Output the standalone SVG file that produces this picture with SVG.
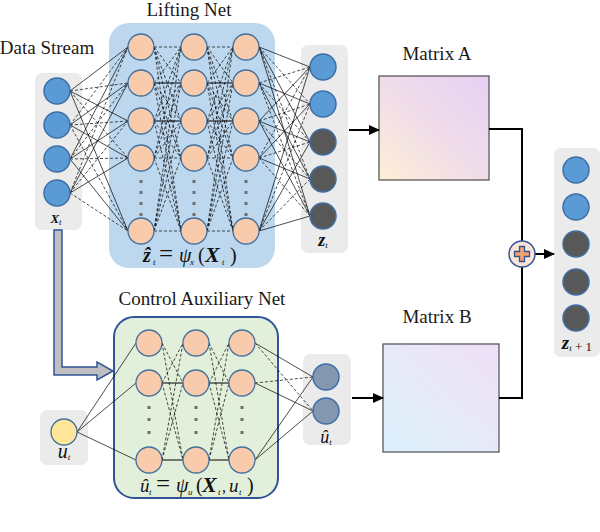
<svg xmlns="http://www.w3.org/2000/svg" width="600" height="532" viewBox="0 0 600 532">
<defs>
<style>
text{font-family:'Liberation Serif','Times New Roman',Times,serif}
.lbl{font-size:19px;fill:#1a1a1a}
.math{font-size:20px;fill:#111}
.bi{font-weight:bold;font-style:italic}
.it{font-style:italic}
.sub{font-size:9px;font-style:italic}
.panel{fill:#ebebeb}
.blue{fill:#5b9bd5;stroke:#3e6fa6;stroke-width:1.5}
.dark{fill:#585858;stroke:#3e6fa6;stroke-width:1.5}
.slate{fill:#8497b0;stroke:#3e6fa6;stroke-width:1.5}
.neu{fill:#f8cbad;stroke:#41719c;stroke-width:1.3}
.yel{fill:#ffe699;stroke:#41719c;stroke-width:1.3}
.solid{fill:none;stroke:#000;stroke-width:0.7}
.dash{fill:none;stroke:#000;stroke-width:0.7;stroke-dasharray:3 2}
.hz{fill:none;stroke:#000;stroke-width:1}
.flow{fill:none;stroke:#000;stroke-width:2}
.dot{fill:#6f6f6f}
</style>
<linearGradient id="gA" x1="0" y1="1" x2="1" y2="0">
<stop offset="0" stop-color="#fdefd6"/>
<stop offset="0.5" stop-color="#f0dcea"/>
<stop offset="1" stop-color="#e6d0f4"/>
</linearGradient>
<linearGradient id="gB" x1="0" y1="1" x2="1" y2="0">
<stop offset="0" stop-color="#daf0fb"/>
<stop offset="0.55" stop-color="#e8e8f8"/>
<stop offset="1" stop-color="#efdff7"/>
</linearGradient>
<marker id="ah" markerUnits="userSpaceOnUse" markerWidth="11" markerHeight="10" refX="10" refY="5" orient="auto">
<path d="M0,0 L11,5 L0,10 Z" fill="#000"/>
</marker>
</defs>

<!-- titles -->
<text class="lbl" x="189" y="16" text-anchor="middle">Lifting Net</text>
<text class="lbl" x="47" y="54" text-anchor="middle">Data Stream</text>
<text class="lbl" x="202" y="305" text-anchor="middle">Control Auxiliary Net</text>
<text class="lbl" x="437" y="60" text-anchor="middle">Matrix A</text>
<text class="lbl" x="437" y="323" text-anchor="middle">Matrix B</text>

<!-- container panels -->
<g id="data-stream-panel"><rect class="panel" x="35" y="73" width="47" height="157" rx="7"/></g>
<g id="lifting-net-panel"><rect x="109" y="23" width="166" height="245" rx="20" fill="#bdd7ee"/></g>
<g id="zt-panel"><rect class="panel" x="301" y="45" width="47" height="208" rx="7"/></g>
<g id="control-net-panel"><rect x="114" y="317" width="164" height="181" rx="20" fill="#e2efda" stroke="#2f5597" stroke-width="2"/></g>
<g id="ut-panel"><rect class="panel" x="40" y="410" width="48" height="55" rx="7"/></g>
<g id="uhat-panel"><rect class="panel" x="303" y="354" width="48" height="91" rx="7"/></g>
<g id="zt1-panel"><rect class="panel" x="554" y="148" width="46" height="209" rx="7"/></g>

<!-- matrices -->
<g id="matrix-a"><rect x="379" y="76" width="110" height="104" fill="url(#gA)" stroke="#595959" stroke-width="1.3"/></g>
<g id="matrix-b"><rect x="383" y="344" width="116" height="108" fill="url(#gB)" stroke="#595959" stroke-width="1.3"/></g>

<!-- connectors -->
<g id="connectors">
<path class="solid" d="M70 91L128 47M70 91L128 121M70 91L128 231M70 125L128 83M70 125L128 158M70 159L128 47M70 159L128 121M70 159L128 231M70 193L128 83M70 193L128 158"/>
<path class="dash" d="M70 91L128 83M70 91L128 158M70 125L128 47M70 125L128 121M70 125L128 231M70 159L128 83M70 159L128 158M70 193L128 47M70 193L128 121M70 193L128 231"/>
<path class="hz" d="M154 83H181M154 121H181M207 83H233M207 121H233"/>
<path class="dash" d="M154 47H181M154 158H181M154 231H181M207 47H233M207 158H233M207 231H233"/>
<path class="dash" d="M154 47L181 83M154 47L181 121M154 47L181 158M154 47L181 231M154 83L181 47M154 83L181 121M154 83L181 158M154 83L181 231M154 121L181 47M154 121L181 83M154 121L181 158M154 121L181 231M154 158L181 47M154 158L181 83M154 158L181 121M154 158L181 231M154 231L181 47M154 231L181 83M154 231L181 121M154 231L181 158"/>
<path class="dash" d="M207 47L233 83M207 47L233 121M207 47L233 158M207 47L233 231M207 83L233 47M207 83L233 121M207 83L233 158M207 83L233 231M207 121L233 47M207 121L233 83M207 121L233 158M207 121L233 231M207 158L233 47M207 158L233 83M207 158L233 121M207 158L233 231M207 231L233 47M207 231L233 83M207 231L233 121M207 231L233 158"/>
<path class="solid" d="M259 47L310 67M259 47L310 142M259 47L310 216M259 83L310 104M259 83L310 179M259 121L310 67M259 121L310 142M259 121L310 216M259 158L310 104M259 158L310 179M259 231L310 67M259 231L310 142M259 231L310 216"/>
<path class="dash" d="M259 47L310 104M259 47L310 179M259 83L310 67M259 83L310 142M259 83L310 216M259 121L310 104M259 121L310 179M259 158L310 67M259 158L310 142M259 158L310 216M259 231L310 104M259 231L310 179"/>
<path class="solid" d="M77 432L136 343M77 432L136 383M77 432L136 460"/>
<path class="hz" d="M162 383H183M162 460H183M209 383H229M209 460H229"/>
<path class="dash" d="M162 343L183 383M162 343L183 460M162 383L183 343M162 383L183 460M162 460L183 343M162 460L183 383M209 343L229 383M209 343L229 460M209 383L229 343M209 383L229 460M209 460L229 343M209 460L229 383"/>
<path class="solid" d="M255 343L313 377M255 383L313 411M255 460L313 377M255 460L313 411"/>
<path class="dash" d="M255 343L313 411M255 383L313 377"/>
<path d="M54 230L62 230L62 367L97 367L97 362L113 371L97 380L97 375L54 375Z" fill="#bfbfbf" stroke="#2f5597" stroke-width="1.5" stroke-linejoin="miter"/>
<path class="flow" d="M349 130H379" marker-end="url(#ah)"/>
<path class="flow" d="M352 398H383" marker-end="url(#ah)"/>
<path class="flow" d="M489 129H522V241"/>
<path class="flow" d="M499 398H522V267"/>
<path class="flow" d="M535 254H554" marker-end="url(#ah)"/>
</g>

<!-- data stream nodes -->
<g id="data-stream">
<circle class="blue" cx="57" cy="91" r="13"/>
<circle class="blue" cx="57" cy="125" r="13"/>
<circle class="blue" cx="57" cy="159" r="13"/>
<circle class="blue" cx="57" cy="193" r="13"/>
<text x="56" y="223" text-anchor="middle" font-size="13" fill="#111"><tspan class="bi">X</tspan><tspan class="sub" font-size="7" dy="1.5">t</tspan></text>
</g>

<!-- lifting net layers -->
<g id="lifting-layer-1">
<circle class="neu" cx="141" cy="47" r="13"/><circle class="neu" cx="141" cy="83" r="13"/><circle class="neu" cx="141" cy="121" r="13"/><circle class="neu" cx="141" cy="158" r="13"/><circle class="neu" cx="141" cy="231" r="13"/>
<rect class="dot" x="139.5" y="180" width="3" height="3"/><rect class="dot" x="139.5" y="191" width="3" height="3"/><rect class="dot" x="139.5" y="202" width="3" height="3"/><rect class="dot" x="139.5" y="213" width="3" height="3"/>
</g>
<g id="lifting-layer-2">
<circle class="neu" cx="194" cy="47" r="13"/><circle class="neu" cx="194" cy="83" r="13"/><circle class="neu" cx="194" cy="121" r="13"/><circle class="neu" cx="194" cy="158" r="13"/><circle class="neu" cx="194" cy="231" r="13"/>
<rect class="dot" x="192.5" y="180" width="3" height="3"/><rect class="dot" x="192.5" y="191" width="3" height="3"/><rect class="dot" x="192.5" y="202" width="3" height="3"/><rect class="dot" x="192.5" y="213" width="3" height="3"/>
</g>
<g id="lifting-layer-3">
<circle class="neu" cx="246" cy="47" r="13"/><circle class="neu" cx="246" cy="83" r="13"/><circle class="neu" cx="246" cy="121" r="13"/><circle class="neu" cx="246" cy="158" r="13"/><circle class="neu" cx="246" cy="231" r="13"/>
<rect class="dot" x="244.5" y="180" width="3" height="3"/><rect class="dot" x="244.5" y="191" width="3" height="3"/><rect class="dot" x="244.5" y="202" width="3" height="3"/><rect class="dot" x="244.5" y="213" width="3" height="3"/>
</g>
<g id="lifting-formula">
<text class="math" y="262"><tspan x="143" class="bi">ẑ</tspan><tspan x="153" y="265" class="sub">t</tspan><tspan x="159" y="262" font-size="25">=</tspan><tspan x="179" y="262" class="it">ψ</tspan><tspan x="190" y="265" class="sub">x</tspan><tspan x="198" y="262">(</tspan><tspan x="205" y="262" class="bi" font-size="22">X</tspan><tspan x="222" y="265" class="sub">t</tspan><tspan x="230" y="262">)</tspan></text>
</g>

<!-- z_t -->
<g id="z-t">
<circle class="blue" cx="323" cy="67" r="13"/>
<circle class="blue" cx="323" cy="104" r="13"/>
<circle class="dark" cx="323" cy="142" r="13"/>
<circle class="dark" cx="323" cy="179" r="13"/>
<circle class="dark" cx="323" cy="216" r="13"/>
<text x="323" y="246" text-anchor="middle" font-size="18" fill="#111"><tspan class="bi">z</tspan><tspan class="sub" font-size="9" dy="2">t</tspan></text>
</g>

<!-- plus -->
<g id="sum">
<circle cx="522" cy="254" r="13" fill="#fbe5d6" stroke="#2f5597" stroke-width="1.5"/>
<path d="M519.5 246.5H524.5V251.5H529.5V256.5H524.5V261.5H519.5V256.5H514.5V251.5H519.5Z" fill="#f4a36a" stroke="#2f5597" stroke-width="1.3"/>
</g>

<!-- z_{t+1} -->
<g id="z-t1">
<circle class="blue" cx="576" cy="170" r="13"/>
<circle class="blue" cx="576" cy="207" r="13"/>
<circle class="dark" cx="576" cy="244" r="13"/>
<circle class="dark" cx="576" cy="282" r="13"/>
<circle class="dark" cx="576" cy="318" r="13"/>
<text x="577" y="349" text-anchor="middle" font-size="19" fill="#111"><tspan class="bi">z</tspan><tspan class="sub" font-size="12" dy="2">t</tspan><tspan font-size="13"> + 1</tspan></text>
</g>

<!-- u_t -->
<g id="u-t">
<circle class="yel" cx="64" cy="432" r="13"/>
<text x="64" y="458" text-anchor="middle" font-size="20" fill="#111"><tspan class="it">u</tspan><tspan class="sub" font-size="12" dy="2">t</tspan></text>
</g>

<!-- control net layers -->
<g id="control-layer-1">
<circle class="neu" cx="149" cy="343" r="13"/><circle class="neu" cx="149" cy="383" r="13"/><circle class="neu" cx="149" cy="460" r="13"/>
<rect class="dot" x="147.5" y="406" width="3" height="3"/><rect class="dot" x="147.5" y="418" width="3" height="3"/><rect class="dot" x="147.5" y="431" width="3" height="3"/>
</g>
<g id="control-layer-2">
<circle class="neu" cx="196" cy="343" r="13"/><circle class="neu" cx="196" cy="383" r="13"/><circle class="neu" cx="196" cy="460" r="13"/>
<rect class="dot" x="194.5" y="406" width="3" height="3"/><rect class="dot" x="194.5" y="418" width="3" height="3"/><rect class="dot" x="194.5" y="431" width="3" height="3"/>
</g>
<g id="control-layer-3">
<circle class="neu" cx="242" cy="343" r="13"/><circle class="neu" cx="242" cy="383" r="13"/><circle class="neu" cx="242" cy="460" r="13"/>
<rect class="dot" x="240.5" y="406" width="3" height="3"/><rect class="dot" x="240.5" y="418" width="3" height="3"/><rect class="dot" x="240.5" y="431" width="3" height="3"/>
</g>
<g id="control-formula">
<text class="math" y="492"><tspan x="140" class="it" font-size="19">û</tspan><tspan x="149" y="495" class="sub">t</tspan><tspan x="156" y="492" font-size="25">=</tspan><tspan x="176" y="492" class="it">ψ</tspan><tspan x="188" y="495" class="sub">u</tspan><tspan x="196" y="492">(</tspan><tspan x="202" y="492" class="bi" font-size="22">X</tspan><tspan x="218" y="495" class="sub">t</tspan><tspan x="222" y="492" font-size="16">,</tspan><tspan x="229" y="492" class="it" font-size="19">u</tspan><tspan x="239" y="495" class="sub">t</tspan><tspan x="247" y="492">)</tspan></text>
</g>

<!-- u hat -->
<g id="u-hat">
<circle class="slate" cx="326" cy="377" r="13"/>
<circle class="slate" cx="326" cy="411" r="13"/>
<text x="326" y="443" text-anchor="middle" font-size="18" fill="#111"><tspan class="it">û</tspan><tspan class="sub" font-size="9" dy="2">t</tspan></text>
</g>
</svg>
